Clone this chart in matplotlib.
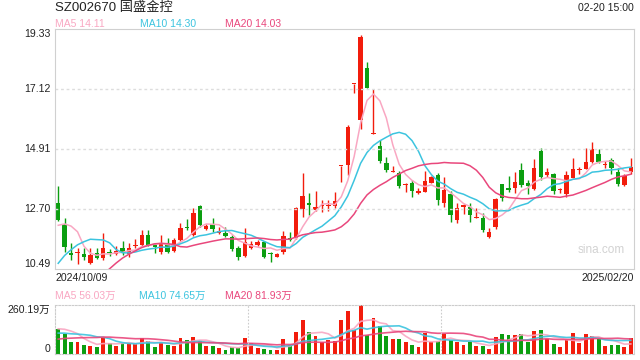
import numpy as np
import pandas as pd
import matplotlib.pyplot as plt

plt.rcParams['font.family'] = ['Liberation Sans', 'Noto Sans CJK SC']

# dane dzienne 2024/10/09 - 2025/02/20
opens = [12.92, 12.15, 11.07, 11.09, 11.03, 10.70, 11.09, 10.88, 11.10, 11.03,
         11.25, 11.03, 11.33, 11.37, 11.74, 11.37, 11.13, 11.40, 11.15, 11.55,
         12.05, 11.74, 12.81, 11.96, 12.14, 11.81, 11.81, 11.66, 11.28, 10.97,
         11.28, 11.37, 11.47, 11.05, 10.94, 11.13, 11.64, 11.62, 12.69, 12.93,
         12.66, 12.81, 12.81, 12.81, 14.29, 14.31, 17.29, 15.98, 17.91, 15.45,
         15.03, 14.38, 14.05, 14.01, 13.58, 13.65, 13.30, 13.34, 13.67, 13.95,
         12.93, 13.25, 12.29, 12.79, 12.79, 12.36, 12.38, 11.68, 12.05, 13.61,
         13.48, 13.46, 14.14, 13.65, 13.44, 14.84, 13.95, 13.98, 13.40, 13.24,
         13.83, 14.12, 14.17, 14.44, 14.73, 14.33, 14.50, 14.07, 13.58, 14.07]
highs = [13.55, 12.37, 11.45, 11.26, 11.28, 11.28, 11.28, 11.80, 11.22, 11.32,
         11.51, 11.45, 11.58, 11.91, 11.91, 11.44, 11.74, 11.63, 11.63, 12.17,
         12.35, 12.72, 12.85, 12.14, 12.38, 12.05, 12.05, 11.74, 11.33, 12.00,
         11.52, 11.56, 11.52, 11.13, 11.08, 11.89, 11.86, 12.78, 14.01, 13.28,
         13.36, 13.03, 13.03, 13.34, 14.29, 15.79, 17.29, 19.11, 18.13, 17.11,
         15.24, 14.63, 14.30, 14.10, 13.65, 13.76, 13.48, 14.10, 13.93, 14.01,
         13.87, 13.37, 12.91, 12.88, 12.91, 12.75, 12.54, 11.99, 13.12, 13.61,
         13.91, 14.07, 14.38, 13.76, 14.54, 14.94, 14.20, 14.03, 13.48, 14.10,
         14.57, 14.26, 14.94, 15.15, 14.91, 14.47, 14.57, 14.22, 14.00, 14.57]
lows = [12.25, 11.12, 10.82, 10.67, 10.82, 10.66, 10.86, 10.82, 10.97, 10.99,
        10.99, 10.93, 11.28, 11.35, 11.32, 11.09, 11.05, 11.09, 11.11, 11.52,
        11.92, 11.71, 12.04, 11.93, 11.86, 11.77, 11.68, 11.15, 10.81, 10.93,
        11.24, 11.33, 10.88, 10.76, 10.92, 11.05, 11.52, 11.59, 12.39, 12.48,
        12.62, 12.58, 12.62, 12.73, 13.70, 13.95, 16.96, 15.65, 17.15, 15.45,
        14.38, 14.07, 14.05, 13.48, 13.31, 13.15, 13.26, 13.31, 13.65, 12.85,
        12.78, 12.23, 12.17, 12.51, 12.21, 12.36, 11.86, 11.62, 11.96, 12.99,
        13.34, 13.28, 13.50, 13.24, 13.40, 13.78, 13.89, 13.26, 13.30, 13.13,
        13.83, 13.98, 14.17, 14.39, 14.39, 14.22, 13.98, 13.55, 13.54, 14.00]
closes = [12.30, 11.30, 11.00, 11.11, 10.94, 11.01, 10.91, 11.27, 11.08, 11.16,
          11.09, 11.25, 11.35, 11.74, 11.37, 11.30, 11.40, 11.13, 11.55, 12.01,
          11.99, 12.54, 12.11, 12.09, 11.96, 11.90, 11.72, 11.21, 10.92, 11.47,
          11.40, 11.49, 10.94, 11.03, 11.04, 11.71, 11.55, 12.75, 13.18, 12.85,
          12.79, 12.82, 12.86, 12.99, 14.29, 15.73, 17.29, 19.02, 17.17, 15.46,
          14.48, 14.14, 14.10, 13.55, 13.60, 13.37, 13.37, 13.73, 13.87, 13.03,
          13.40, 12.48, 12.75, 12.85, 12.48, 12.42, 11.93, 11.86, 13.07, 13.12,
          13.40, 13.71, 13.58, 13.55, 14.22, 13.89, 14.07, 13.37, 13.42, 13.95,
          14.17, 14.14, 14.44, 14.91, 14.44, 14.35, 14.20, 13.62, 13.91, 14.26]
# wolumen w 万
volumes = [134, 106, 62, 62, 49, 44, 39, 84, 58, 44,
           58, 58, 53, 84, 70, 39, 58, 49, 44, 86,
           76, 92, 70, 44, 44, 32, 23, 35, 32, 86,
           56, 33, 28, 23, 23, 81, 49, 118, 181, 118,
           97, 63, 76, 70, 181, 229, 125, 260.19, 100, 192,
           150, 97, 81, 81, 65, 49, 39, 109, 63, 70,
           104, 76, 62, 49, 62, 44, 44, 28, 92, 107,
           102, 102, 107, 65, 123, 128, 81, 55, 39, 76,
           113, 60, 107, 97, 81, 44, 49, 49, 39, 86]

# sesje przed oknem wykresu (potrzebne do średnich kroczących)
prev_closes = [6.90, 6.85, 6.80, 6.90, 6.85, 6.90, 7.00, 7.10, 7.00, 7.40,
               8.40, 8.90, 9.30, 9.80, 10.10, 11.05, 11.40, 12.15, 13.60]
prev_volumes = [35, 30, 32, 28, 30, 35, 40, 60, 90, 90,
                110, 95, 80, 75, 80, 120, 110, 130, 176]

title = "SZ002670 国盛金控"
timestamp = "02-20 15:00"
date_labels = ["2024/10/09", "2025/02/20"]
price_ticks = [19.33, 17.12, 14.91, 12.70, 10.49]
vol_max = 260.19
ma_labels = ["MA5 14.11", "MA10 14.30", "MA20 14.03"]
vol_ma_labels = ["MA5 56.03万", "MA10 74.65万", "MA20 81.93万"]

red = '#f21c0c'
green = '#0b9e10'
ma_colors = ['#f9a7c2', '#3cc4df', '#e9477c']

n = len(closes)
x = np.arange(n)
o = np.array(opens)
c = np.array(closes)
up = c >= o
cols = [red if u else green for u in up]

all_c = pd.Series(prev_closes + closes)
all_v = pd.Series(prev_volumes + volumes)
k = len(prev_closes)

W, H = 640, 360
def box(l, t, r, b):
    return [l / W, 1 - b / H, (r - l) / W, (b - t) / H]

fig = plt.figure(figsize=(6.4, 3.6), dpi=100)
ax = fig.add_axes(box(55, 29, 634, 269))
axv = fig.add_axes(box(55, 305, 634, 354))

# swiece
ax.vlines(x, lows, highs, colors=cols, linewidth=1)
body = np.maximum(np.abs(c - o), 0.035)
ax.bar(x, body, bottom=np.minimum(o, c), width=0.68, color=cols, linewidth=0)

for p, col in zip([5, 10, 20], ma_colors):
    ma = all_c.rolling(p).mean().values[k:]
    ax.plot(x, ma, color=col, linewidth=1.1)

ax.set_xlim(-0.5, n - 0.5)
ax.set_ylim(price_ticks[-1], price_ticks[0])
ax.set_xticks([])
ax.set_yticks([])
for t in price_ticks[1:-1]:
    ax.axhline(t, color='#dddddd', linestyle=(0, (2, 2)), linewidth=1)
for s in ax.spines.values():
    s.set_color('#d0d0d0')
ytr = ax.get_yaxis_transform()
for i, t in enumerate(price_ticks):
    va = 'top' if i == 0 else ('bottom' if i == len(price_ticks) - 1 else 'center')
    ax.text(-0.008, t, f"{t:.2f}", transform=ytr, ha='right', va=va,
            fontsize=7.6, color='#222222')
ax.text(0.985, 0.08, "sina.com", transform=ax.transAxes, ha='right', va='center',
        fontsize=8.5, color='#d2d2d2')

# wolumen
axv.bar(x, volumes, width=0.6, color=cols, linewidth=0)
for p, col in zip([5, 10, 20], ma_colors):
    vma = all_v.rolling(p).mean().values[k:]
    axv.plot(x, vma, color=col, linewidth=1.2, alpha=0.9)
axv.set_xlim(-0.5, n - 0.5)
axv.set_ylim(0, vol_max)
axv.set_xticks([])
axv.set_yticks([])
for name in ['top', 'left', 'bottom']:
    axv.spines[name].set_color('#cccccc')
    axv.spines[name].set_linestyle((0, (1.5, 1.5)))
axv.spines['right'].set_color('#d0d0d0')
for xv in [n / 3 - 0.5, 2 * n / 3 - 0.5]:
    axv.axvline(xv, color='#cccccc', linestyle=(0, (1.5, 1.5)), linewidth=0.8)
axv.text(-0.008, 1.0, f"{vol_max:.2f}万", transform=axv.transAxes, ha='right',
         va='top', fontsize=7.6, color='#222222')
axv.text(-0.008, 0.0, "0", transform=axv.transAxes, ha='right', va='bottom',
         fontsize=7.6, color='#222222')

def ftext(px, py, s, **kw):
    fig.text(px / W, 1 - py / H, s, **kw)

ftext(55, 8, title, fontsize=9.5, va='center', color='#222222')
ftext(634, 8, timestamp, fontsize=7.6, va='center', ha='right', color='#222222')
for px, s, col in zip([55, 140, 225], ma_labels, ma_colors):
    ftext(px, 24, s, fontsize=7.5, va='center', color=col)
for px, s, col in zip([55, 139, 225], vol_ma_labels, ma_colors):
    ftext(px, 296, s, fontsize=7.5, va='center', color=col)
ftext(55, 278, date_labels[0], fontsize=7.6, va='center', color='#222222')
ftext(634, 278, date_labels[1], fontsize=7.6, va='center', ha='right', color='#222222')

fig.savefig('out.png', dpi=100)
